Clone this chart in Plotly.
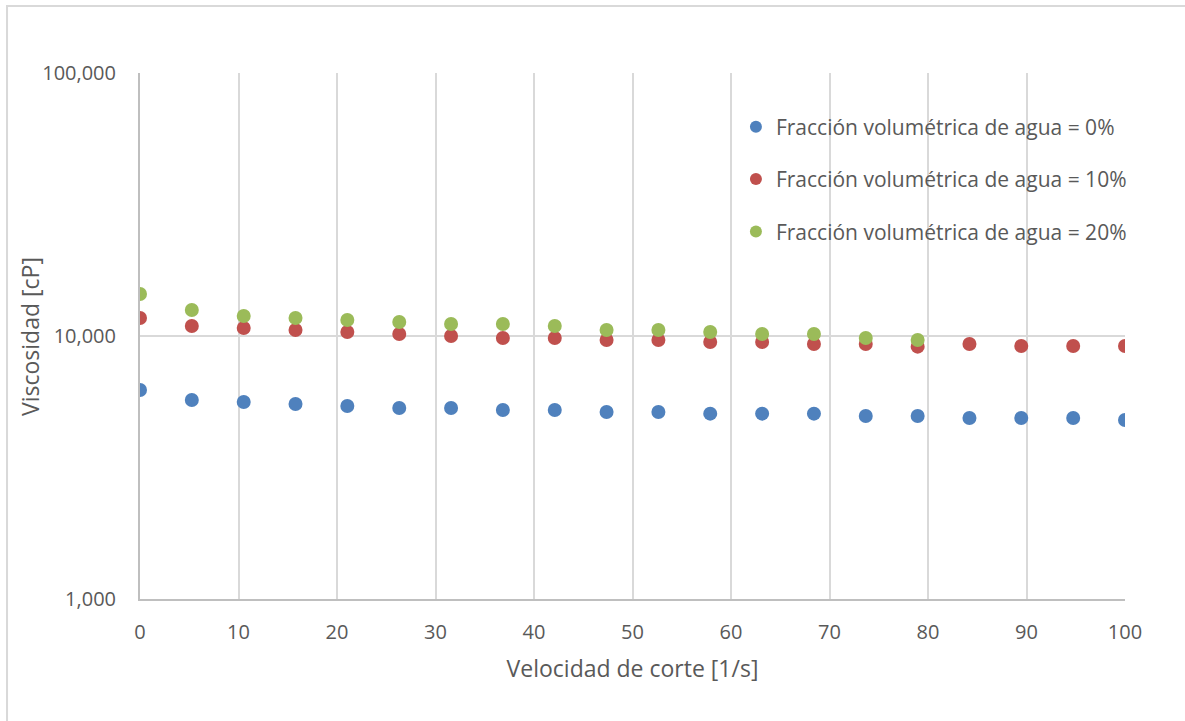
import plotly.graph_objects as go

shear_rate = [0, 5.26, 10.53, 15.79, 21.05, 26.32, 31.58, 36.84, 42.11, 47.37,
              52.63, 57.89, 63.16, 68.42, 73.68, 78.95, 84.21, 89.47, 94.74, 100]

visc_0 = [6233, 5709, 5611, 5513, 5418, 5324, 5324, 5232, 5232, 5140,
          5140, 5066, 5066, 5066, 4963, 4963, 4877, 4877, 4877, 4792]
visc_10 = [11706, 10914, 10725, 10540, 10356, 10176, 10000, 9826, 9826, 9656,
           9656, 9488, 9488, 9324, 9324, 9108, 9324, 9162, 9162, 9162]
visc_20 = [14444, 12556, 11913, 11706, 11502, 11303, 11106, 11106, 10914, 10540,
           10540, 10356, 10176, 10176, 9826, 9656]

names = ["Fracción volumétrica de agua = 0%",
         "Fracción volumétrica de agua = 10%",
         "Fracción volumétrica de agua = 20%"]
colors = ["#4F81BD", "#C0504D", "#9BBB59"]

x_ticks = [0, 10, 20, 30, 40, 50, 60, 70, 80, 90, 100]
y_ticks = [1000, 10000, 100000]
y_tick_text = ["1,000", "10,000", "100,000"]

x_title = "Velocidad de corte [1/s]"
y_title = "Viscosidad [cP]"

font_family = "Open Sans"
text_color = "#595959"

fig = go.Figure()
series = [visc_0, visc_10, visc_20]
for i, (vals, name, col) in enumerate(zip(series, names, colors)):
    fig.add_trace(go.Scatter(
        x=shear_rate[:len(vals)], y=vals, mode="markers", name=name,
        legendgroup=f"g{i}",
        marker=dict(color=col, size=14, line=dict(width=0)),
    ))

fig.update_layout(
    width=1185, height=721,
    margin=dict(l=140, r=60, t=73, b=122),
    paper_bgcolor="white", plot_bgcolor="white",
    font=dict(family=font_family, color=text_color, size=20),
    showlegend=True,
    legend=dict(
        x=0.605, y=0.936, xanchor="left", yanchor="top",
        bgcolor="rgba(0,0,0,0)", tracegroupgap=22,
        font=dict(size=21, color=text_color, family=font_family),
        itemsizing="constant",
    ),
    shapes=[dict(type="rect", xref="paper", yref="paper",
                 x0=-0.135, x1=1.1, y0=-0.3, y1=1.1274,
                 line=dict(color="#D9D9D9", width=2), layer="below")],
    annotations=[dict(text=y_title, xref="paper", yref="paper",
                      x=-0.1117, y=0.5, xanchor="center", yanchor="middle",
                      textangle=-90, showarrow=False,
                      font=dict(size=23, color=text_color, family=font_family))],
)

fig.update_xaxes(
    range=[0, 100], tickvals=x_ticks,
    showgrid=True, gridcolor="#D9D9D9", gridwidth=2,
    showline=True, linecolor="#BFBFBF", linewidth=2,
    ticks="outside", ticklen=14, tickcolor="rgba(0,0,0,0)",
    tickfont=dict(size=20), zeroline=False,
    title=dict(text=x_title, font=dict(size=23), standoff=17),
)
fig.update_yaxes(
    type="log", range=[3, 5], tickvals=y_ticks, ticktext=y_tick_text,
    showgrid=True, gridcolor="#D9D9D9", gridwidth=2,
    showline=True, linecolor="#BFBFBF", linewidth=2,
    ticks="outside", ticklen=18, tickcolor="rgba(0,0,0,0)",
    tickfont=dict(size=20), zeroline=False,
)

fig.write_html("out.html")
